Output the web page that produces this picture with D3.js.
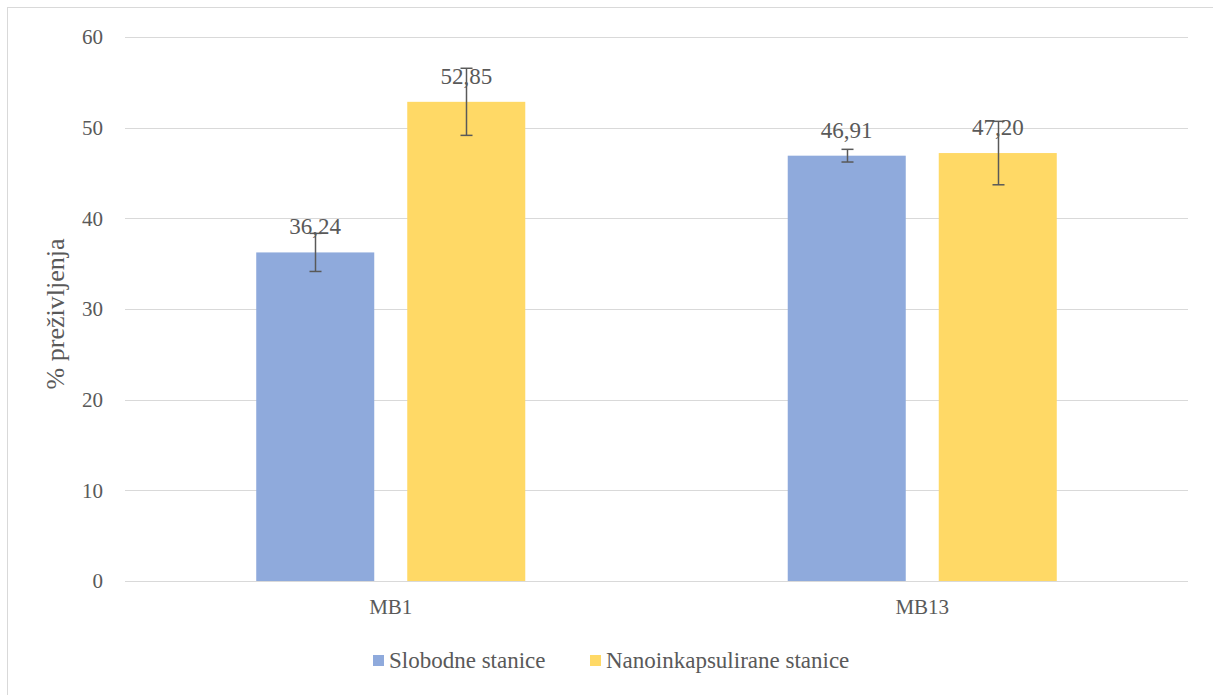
<!DOCTYPE html>
<html><head><meta charset="utf-8">
<script src="https://cdn.jsdelivr.net/npm/d3@7"></script>
<style>body{margin:0;background:#fff}svg{display:block}svg text{font-family:'Liberation Serif','Tinos','DejaVu Serif',serif;fill:#595959}</style>
</head><body><svg id="c" width="1213" height="695"></svg>
<script>
const categories = ["MB1", "MB13"];
const seriesNames = ["Slobodne stanice", "Nanoinkapsulirane stanice"];
const seriesColors = ["#8FAADC", "#FFD966"];
const slobodne = [36.24, 46.91];
const nanoinkapsulirane = [52.85, 47.20];
const slobodneErr = [2.1, 0.7];
const nanoErr = [3.7, 3.5];
const labels = [["36,24", "46,91"], ["52,85", "47,20"]];
const yTicks = [0, 10, 20, 30, 40, 50, 60];
const yTitle = "% preživljenja";

const values = [slobodne, nanoinkapsulirane];
const errs = [slobodneErr, nanoErr];
const FONT = "'Liberation Serif','Tinos','DejaVu Serif',serif";

const svg = d3.select("#c");
svg.append("rect").attr("x", 7.5).attr("y", 7.5).attr("width", 1210).attr("height", 700)
  .attr("fill", "none").attr("stroke", "#D9D9D9");

const L = 125, R = 1188, T = 37, B = 581;
const y = d3.scaleLinear().domain([0, 60]).range([B, T]);
const x0 = d3.scaleBand().domain(categories).range([L, R]);
const x1 = d3.scaleBand().domain(seriesNames).range([0, x0.bandwidth()]).paddingInner(0.2185).paddingOuter(0.869);

svg.append("g").selectAll("line").data(yTicks).join("line")
  .attr("x1", L).attr("x2", R).attr("y1", d => Math.round(y(d)) + 0.5).attr("y2", d => Math.round(y(d)) + 0.5)
  .attr("stroke", "#D9D9D9").attr("stroke-width", 1);

const yAxis = d3.axisLeft(y).tickValues(yTicks).tickSize(0).tickPadding(22);
const ga = svg.append("g").attr("transform", `translate(${L},0)`).call(yAxis).attr("font-family", FONT).attr("font-size", 21);
ga.select(".domain").remove();
ga.selectAll("text").attr("fill", "#595959");

const xAxis = d3.axisBottom(x0).tickSize(0).tickPadding(18);
const gx = svg.append("g").attr("transform", `translate(0,${B})`).call(xAxis).attr("font-family", FONT).attr("font-size", 21);
gx.select(".domain").remove();
gx.selectAll("text").attr("fill", "#595959");

seriesNames.forEach((s, si) => {
  svg.append("g").selectAll("rect").data(categories).join("rect")
    .attr("x", c => x0(c) + x1(s)).attr("width", x1.bandwidth())
    .attr("y", (c, i) => y(values[si][i])).attr("height", (c, i) => B - y(values[si][i]))
    .attr("fill", seriesColors[si]);
});

seriesNames.forEach((s, si) => {
  categories.forEach((c, i) => {
    const cx = Math.round(x0(c) + x1(s) + x1.bandwidth() / 2) + 0.5;
    const v = values[si][i], e = errs[si][i];
    const g = svg.append("g").attr("stroke", "#595959").attr("stroke-width", 1.5);
    g.append("line").attr("x1", cx).attr("x2", cx).attr("y1", y(v + e)).attr("y2", y(v - e));
    g.append("line").attr("x1", cx - 6).attr("x2", cx + 6).attr("y1", y(v + e)).attr("y2", y(v + e));
    g.append("line").attr("x1", cx - 6).attr("x2", cx + 6).attr("y1", y(v - e)).attr("y2", y(v - e));
  });
});

seriesNames.forEach((s, si) => {
  categories.forEach((c, i) => {
    svg.append("text").attr("x", x0(c) + x1(s) + x1.bandwidth() / 2)
      .attr("y", y(values[si][i]) - 18).attr("text-anchor", "middle")
      .attr("font-family", FONT).attr("font-size", 23).text(labels[si][i]);
  });
});

svg.append("text").attr("transform", `translate(64,314) rotate(-90)`)
  .attr("text-anchor", "middle").attr("font-family", FONT).attr("font-size", 26).text(yTitle);

const legX = [373, 590];
seriesNames.forEach((s, si) => {
  svg.append("rect").attr("x", legX[si]).attr("y", 655).attr("width", 11).attr("height", 11).attr("fill", seriesColors[si]);
  svg.append("text").attr("x", legX[si] + 16).attr("y", 668).attr("font-family", FONT).attr("font-size", 23).text(s);
});
</script></body></html>
